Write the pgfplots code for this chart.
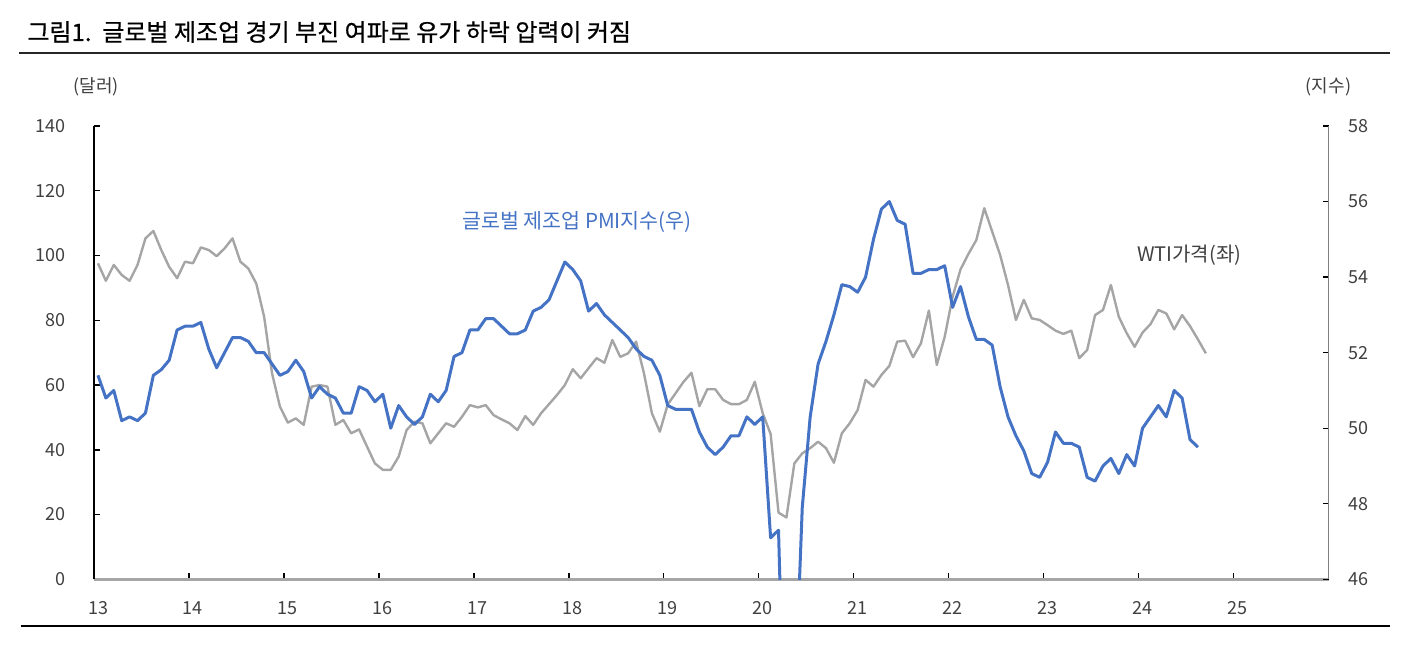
\documentclass[border=0pt]{standalone}
\usepackage{fontspec}
\setmainfont{Noto Sans CJK KR}
\newfontfamily\titlefont[FakeBold=0.6]{Noto Sans CJK KR}
\usepackage{pgfplots}
\usepackage{pgfplotstable}
\pgfplotsset{compat=1.18}
\definecolor{pmiblue}{HTML}{4472C4}
\definecolor{wtigray}{HTML}{A5A5A5}
\definecolor{axisgray}{HTML}{A6A6A6}
\definecolor{rightgray}{HTML}{808080}
\definecolor{labelcol}{HTML}{404040}

% month index k = 0 is Jan 2013
\pgfplotstableread{
k v
0 97.6
1 92.2
2 97.1
3 94.0
4 92.2
5 97.1
6 105.3
7 107.6
8 101.7
9 96.5
10 93.0
11 98.1
12 97.6
13 102.5
14 101.7
15 99.8
16 102.2
17 105.3
18 98.1
19 96.0
20 91.4
21 81.1
22 63.6
23 53.3
24 48.4
25 49.7
26 47.7
27 59.5
28 60.0
29 59.5
30 47.7
31 49.2
32 45.1
33 46.3
34 41.0
35 35.8
36 33.8
37 33.8
38 37.9
39 46.1
40 48.7
41 48.2
42 42.0
43 45.1
44 48.2
45 47.1
46 50.2
47 53.8
48 53.1
49 53.8
50 50.7
51 49.4
52 48.2
53 46.1
54 50.4
55 47.7
56 51.3
57 54.1
58 56.9
59 60.0
60 64.9
61 62.1
62 65.2
63 68.3
64 66.9
65 73.9
66 68.7
67 69.8
68 73.4
69 63.6
70 51.3
71 45.6
72 54.0
73 57.5
74 61.0
75 63.8
76 53.5
77 58.7
78 58.7
79 55.4
80 54.1
81 54.1
82 55.4
83 61.0
84 51.3
85 44.9
86 20.6
87 19.1
88 35.8
89 38.9
90 40.5
91 42.5
92 40.5
93 36.0
94 45.1
95 48.2
96 52.3
97 61.6
98 59.5
99 63.1
100 65.9
101 73.4
102 73.7
103 68.6
104 72.9
105 83.0
106 66.2
107 74.9
108 87.3
109 95.7
110 100.5
111 104.8
112 114.6
113 107.4
114 100.2
115 90.9
116 80.1
117 86.3
118 80.6
119 80.1
120 78.5
121 76.8
122 75.8
123 76.8
124 68.3
125 70.8
126 81.6
127 83.2
128 90.9
129 81.1
130 76.0
131 71.8
132 76.2
133 78.8
134 83.2
135 82.1
136 77.2
137 81.6
138 78.2
139 74.1
140 69.8
}\wti

\pgfplotstableread{
k v
0 51.4
1 50.8
2 51.0
3 50.2
4 50.3
5 50.2
6 50.4
7 51.4
8 51.55
9 51.8
10 52.6
11 52.7
12 52.7
13 52.8
14 52.1
15 51.6
16 52.0
17 52.4
18 52.4
19 52.3
20 52.0
21 52.0
22 51.7
23 51.4
24 51.5
25 51.8
26 51.5
27 50.8
28 51.1
29 50.9
30 50.8
31 50.4
32 50.4
33 51.1
34 51.0
35 50.7
36 50.9
37 50.0
38 50.6
39 50.3
40 50.1
41 50.3
42 50.9
43 50.7
44 51.0
45 51.9
46 52.0
47 52.6
48 52.6
49 52.9
50 52.9
51 52.7
52 52.5
53 52.5
54 52.6
55 53.1
56 53.2
57 53.4
58 53.9
59 54.4
60 54.2
61 53.9
62 53.1
63 53.3
64 53.0
65 52.8
66 52.6
67 52.4
68 52.1
69 51.9
70 51.8
71 51.4
72 50.6
73 50.5
74 50.5
75 50.5
76 49.9
77 49.5
78 49.3
79 49.5
80 49.8
81 49.8
82 50.3
83 50.1
84 50.3
85 47.1
86 47.3
87 39.6
88 42.4
89 47.9
90 50.3
91 51.7
92 52.3
93 53.0
94 53.8
95 53.75
96 53.6
97 54.0
98 55.0
99 55.8
100 56.0
101 55.5
102 55.4
103 54.1
104 54.1
105 54.2
106 54.2
107 54.3
108 53.2
109 53.75
110 52.95
111 52.35
112 52.35
113 52.2
114 51.1
115 50.3
116 49.8
117 49.4
118 48.8
119 48.7
120 49.1
121 49.9
122 49.6
123 49.6
124 49.5
125 48.7
126 48.6
127 49.0
128 49.2
129 48.8
130 49.3
131 49.0
132 50.0
133 50.3
134 50.6
135 50.3
136 51.0
137 50.8
138 49.7
139 49.5
}\pmi

\begin{document}
\begin{tikzpicture}
\path[use as bounding box] (0pt,0pt) rectangle (701pt,-330.5pt);

% title and rules
\node[anchor=west, inner sep=0pt, font=\fontsize{12}{14}\titlefont] at (13.5pt,-16pt) {그림1.\ \ 글로벌 제조업 경기 부진 여파로 유가 하락 압력이 커짐};
\draw[line width=1.2pt, black!85] (9.5pt,-26.5pt) -- (695pt,-26.5pt);
\draw[line width=0.8pt, black] (10.35pt,-313pt) -- (695pt,-313pt);

% unit labels
\node[inner sep=0pt, text=labelcol, font=\fontsize{9}{11}\selectfont] at (48pt,-43.35pt) {(달러)};
\node[inner sep=0pt, text=labelcol, font=\fontsize{9}{11}\selectfont] at (664.25pt,-43.35pt) {(지수)};

\begin{axis}[
  at={(47pt,-289.65pt)}, anchor=south west,
  scale only axis, width=617.25pt, height=226.65pt,
  xmin=13, xmax=26, ymin=0, ymax=140,
  axis x line*=bottom, axis y line*=left,
  xtick={13,14,...,25}, ytick={0,20,...,140},
  tick align=inside, major tick length=3pt,
  tick style={black, line width=0.7pt},
  x axis line style={draw=axisgray, line width=1.2pt},
  y axis line style={draw=black, line width=0.9pt},
  /pgf/number format/assume math mode=true,
  ticklabel style={font=\fontsize{9}{10}\selectfont, text=labelcol},
  yticklabel style={anchor=east, xshift=-10.5pt},
  xticklabel style={anchor=base, yshift=-17.5pt, xshift=2pt},
]
\addplot[wtigray, line width=1.2pt, line join=round] table[x expr=13+(\thisrow{k}+0.5)/12, y=v] {\wti};
\end{axis}

\begin{axis}[
  at={(47pt,-289.65pt)}, anchor=south west,
  scale only axis, width=617.25pt, height=226.65pt,
  xmin=13, xmax=26, ymin=46, ymax=58,
  axis x line=none, axis y line*=right,
  ytick={46,48,...,58},
  tick align=inside, major tick length=3pt,
  tick style={black, line width=0.7pt},
  y axis line style={draw=rightgray, line width=0.9pt},
  /pgf/number format/assume math mode=true,
  ticklabel style={font=\fontsize{9}{10}\selectfont, text=labelcol},
  yticklabel style={anchor=west, xshift=6.5pt},
]
\addplot[pmiblue, line width=1.5pt, line join=round] table[x expr=13+(\thisrow{k}+0.5)/12, y=v] {\pmi};
\end{axis}

% series labels
\node[anchor=west, inner sep=0pt, text=pmiblue, font=\fontsize{10.3}{12}\selectfont] at (230.85pt,-110.85pt) {글로벌 제조업 PMI지수(우)};
\node[anchor=west, inner sep=0pt, text=labelcol, font=\fontsize{10}{12}\selectfont] at (568.35pt,-127.5pt) {WTI가격(좌)};
\end{tikzpicture}
\end{document}
